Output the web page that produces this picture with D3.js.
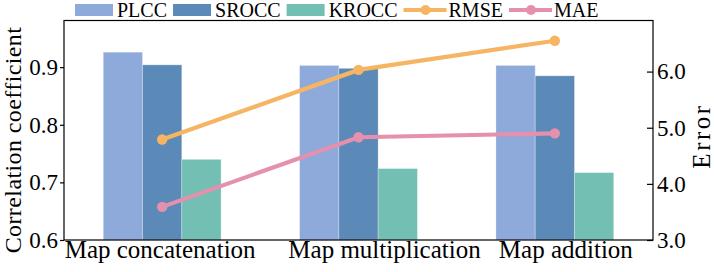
<!DOCTYPE html>
<html>
<head>
<meta charset="utf-8">
<script src="https://cdn.jsdelivr.net/npm/d3@7"></script>
<style>
  body { margin: 0; background: #fff; }
  svg text { font-family: "Liberation Serif", "Times New Roman", serif; fill: #000; }
  .axis text { font-size: 23px; }
  .axis path, .axis line { stroke: #000; stroke-width: 1.2; }
</style>
</head>
<body>
<div id="chart"></div>
<script>
// data
var methods = ['Map concatenation', 'Map multiplication', 'Map addition'];
var plcc = [0.926, 0.903, 0.903];
var srocc = [0.904, 0.898, 0.885];
var krocc = [0.740, 0.724, 0.717];
var rmse = [4.79, 6.03, 6.55];
var mae = [3.59, 4.83, 4.90];
var leftTicks = [0.6, 0.7, 0.8, 0.9];
var rightTicks = [3.0, 4.0, 5.0, 6.0];

var barSeries = [
  { name: 'PLCC', values: plcc, color: '#8eaadb' },
  { name: 'SROCC', values: srocc, color: '#5b89b8' },
  { name: 'KROCC', values: krocc, color: '#74bfb4' }
];
var lineSeries = [
  { name: 'RMSE', values: rmse, color: '#f5b563' },
  { name: 'MAE', values: mae, color: '#e590ac' }
];

var size = { w: 714, h: 272 };
var margin = { top: 20.5, right: 61, bottom: 32, left: 64 };
// the category labels in the figure sit slightly off their group centres
var labelNudge = [-2, 26, 11];

var svg = d3.select('#chart').append('svg')
  .attr('width', size.w)
  .attr('height', size.h);

var x = d3.scaleBand()
  .domain(methods)
  .range([margin.left, size.w - margin.right])
  .padding(0);
var xInner = d3.scaleBand()
  .domain(barSeries.map(function(d) { return d.name; }))
  .range([0, x.bandwidth() * 0.6]);
var yL = d3.scaleLinear()
  .domain([0.6, 0.981])
  .range([size.h - margin.bottom, margin.top]);
var yR = d3.scaleLinear()
  .domain([3.0, 6.91])
  .range([size.h - margin.bottom, margin.top]);

// bars
var groups = svg.append('g').selectAll('g')
  .data(methods)
  .enter().append('g')
  .attr('transform', function(d) { return 'translate(' + (x(d) + x.bandwidth() * 0.2) + ',0)'; });
groups.selectAll('rect')
  .data(function(d, i) { return barSeries.map(function(s) { return { s: s, v: s.values[i] }; }); })
  .enter().append('rect')
  .attr('x', function(d) { return xInner(d.s.name); })
  .attr('width', xInner.bandwidth())
  .attr('y', function(d) { return yL(d.v); })
  .attr('height', function(d) { return yL(0.6) - yL(d.v); })
  .attr('fill', function(d) { return d.s.color; })
  .attr('stroke', 'rgba(255,255,255,0.35)')
  .attr('stroke-width', 0.8);

// lines
var cx = function(d, i) { return x(methods[i]) + x.bandwidth() / 2; };
lineSeries.forEach(function(s) {
  var line = d3.line()
    .x(function(d, i) { return cx(d, i); })
    .y(function(d) { return yR(d); });
  var g = svg.append('g');
  g.append('path')
    .attr('d', line(s.values))
    .attr('fill', 'none')
    .attr('stroke', s.color)
    .attr('stroke-width', 4.2);
  g.selectAll('circle').data(s.values).enter().append('circle')
    .attr('cx', cx)
    .attr('cy', function(d) { return yR(d); })
    .attr('r', 5.2)
    .attr('fill', s.color);
});

// frame
svg.append('rect')
  .attr('x', margin.left)
  .attr('y', margin.top)
  .attr('width', size.w - margin.left - margin.right)
  .attr('height', size.h - margin.top - margin.bottom)
  .attr('fill', 'none')
  .attr('stroke', '#000')
  .attr('stroke-width', 1.2);

// left axis
svg.append('g')
  .attr('class', 'axis')
  .attr('transform', 'translate(' + margin.left + ',0)')
  .call(d3.axisLeft(yL).tickValues(leftTicks).tickFormat(d3.format('.1f')).tickSize(4).tickPadding(2))
  .call(function(g) { g.select('.domain').remove(); g.attr('font-family', null); });

// right axis, ticks pointing inward
svg.append('g')
  .attr('class', 'axis')
  .attr('transform', 'translate(' + (size.w - margin.right) + ',0)')
  .call(d3.axisRight(yR).tickValues(rightTicks).tickFormat(d3.format('.1f')).tickSize(0).tickPadding(4))
  .call(function(g) {
    g.select('.domain').remove();
    g.attr('font-family', null);
    g.selectAll('.tick').append('line').attr('x1', -6).attr('x2', 0);
  });

// x labels
svg.append('g').selectAll('text')
  .data(methods)
  .enter().append('text')
  .attr('x', function(d, i) { return x(d) + x.bandwidth() / 2 + labelNudge[i]; })
  .attr('y', 258)
  .attr('text-anchor', 'middle')
  .attr('font-size', 25)
  .text(function(d) { return d; });

// axis titles
svg.append('text')
  .attr('transform', 'translate(21,140) rotate(-90)')
  .attr('text-anchor', 'middle')
  .attr('font-size', 24)
  .attr('letter-spacing', 0.4)
  .text('Correlation coefficient');
svg.append('text')
  .attr('transform', 'translate(710,136) rotate(-90)')
  .attr('text-anchor', 'middle')
  .attr('font-size', 25)
  .attr('letter-spacing', 2.5)
  .text('Error');

// legend
var legend = svg.append('g');
var lx = 75;
barSeries.concat(lineSeries).forEach(function(s, i) {
  var item = legend.append('g').attr('transform', 'translate(' + lx + ',0)');
  var isBar = i < barSeries.length;
  if (isBar) {
    item.append('rect').attr('x', 0).attr('y', 4).attr('width', 38).attr('height', 12).attr('fill', s.color);
  } else {
    item.append('line').attr('x1', 0).attr('x2', 43).attr('y1', 10).attr('y2', 10)
      .attr('stroke', s.color).attr('stroke-width', 4);
    item.append('circle').attr('cx', 22).attr('cy', 10).attr('r', 5).attr('fill', s.color);
  }
  var w = isBar ? 38 : 43;
  var pad = isBar ? 4 : 2;
  var t = item.append('text')
    .attr('x', w + pad)
    .attr('y', 17)
    .attr('font-size', 20)
    .text(s.name);
  lx += w + pad + t.node().getComputedTextLength() + 6;
});
</script>
</body>
</html>
